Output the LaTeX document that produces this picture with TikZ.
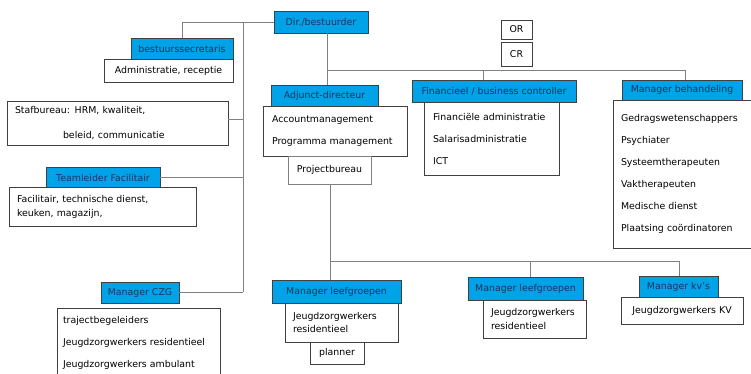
\documentclass[tikz,border=0pt]{standalone}
\usepackage{fontspec}
\setmainfont{DejaVu Sans}
\definecolor{hblue}{RGB}{0,162,232}
\definecolor{navy}{RGB}{28,52,92}
\definecolor{boxgray}{RGB}{64,64,64}
\definecolor{linegray}{RGB}{128,128,128}
\begin{document}
\begin{tikzpicture}[x=1pt,y=-1pt,
  box/.style={draw=boxgray, line width=0.8pt, fill=white, inner sep=0pt, text=black,
    font=\fontsize{9.4}{11}\selectfont},
  bluebox/.style={box, fill=hblue, text=navy},
  listbox/.style={box, align=left, inner xsep=8pt, font=\fontsize{9.4}{22}\selectfont},
  conn/.style={draw=linegray, line width=0.8pt}
]
\useasboundingbox (0,0) rectangle (751,374);
\clip (0,0) rectangle (751,374);

% top
\node[bluebox, minimum width=94pt, minimum height=22pt] (dir) at (321,22) {Dir./bestuurder};
\node[box, minimum width=31pt, minimum height=19pt] (or) at (516.5,29.5) {OR};
\node[box, minimum width=31pt, minimum height=24pt] (cr) at (516.5,54) {CR};

% left column
\node[bluebox, minimum width=102pt, minimum height=21pt] (secr) at (182,48.5) {bestuurssecretaris};
\node[box, minimum width=129pt, minimum height=23pt] (admin) at (168.5,70.5) {Administratie, receptie};
\node[listbox, text width=205pt, minimum width=221pt, minimum height=44pt,
      font=\fontsize{9.4}{25}\selectfont] (staf) at (117.5,123)
      {Stafbureau: HRM, kwaliteit,\\\hspace*{48pt}beleid, communicatie};
\node[bluebox, minimum width=114pt, minimum height=21pt] (team) at (103,177.5) {Teamleider Facilitair};
\node[listbox, text width=171pt, minimum width=187pt, minimum height=39pt,
      font=\fontsize{9.4}{14}\selectfont] (facil) at (102.5,206.5)
      {Facilitair, technische dienst,\\keuken, magazijn,};
\node[bluebox, minimum width=78pt, minimum height=21pt] (czg) at (140,292.5) {Manager CZG};
\node[listbox, inner xsep=6pt, text width=151pt, minimum width=163pt, minimum height=70pt] (czgsub) at (138.5,343)
      {trajectbegeleiders\\Jeugdzorgwerkers residentieel\\Jeugdzorgwerkers ambulant};

% adjunct
\node[bluebox, minimum width=107pt, minimum height=21pt] (adj) at (324.5,95.5) {Adjunct-directeur};
\node[listbox, inner xsep=9pt, text width=126pt, minimum width=144pt, minimum height=50pt] (acct) at (335,131)
      {Accountmanagement\\Programma management};
\node[box, draw=linegray, minimum width=83pt, minimum height=28pt] (proj) at (329.5,170) {Projectbureau};

% financieel
\node[bluebox, minimum width=164pt, minimum height=22pt] (fin) at (494,91) {Financieel / business controller};
\node[listbox, inner xsep=9pt, text width=117pt, minimum width=135pt, minimum height=73pt] (finsub) at (491.5,138.5)
      {Financiële administratie\\Salarisadministratie\\ICT};

% behandeling
\node[bluebox, minimum width=120pt, minimum height=20pt] (beh) at (682,90) {Manager behandeling};
\node[listbox, text width=128pt, minimum width=144pt, minimum height=148pt] (behsub) at (685,174)
      {Gedragswetenschappers\\Psychiater\\Systeemtherapeuten\\Vaktherapeuten\\Medische dienst\\Plaatsing coördinatoren};

% bottom row
\node[bluebox, minimum width=129pt, minimum height=23pt] (lg1) at (336.5,291.5) {Manager leefgroepen};
\node[listbox, text width=97pt, minimum width=113pt, minimum height=39pt,
      font=\fontsize{9.4}{13.5}\selectfont] (lg1sub) at (341.5,322.5)
      {Jeugdzorgwerkers\\residentieel};
\node[box, minimum width=54pt, minimum height=22pt] (planner) at (337,353) {planner};
\node[bluebox, minimum width=115pt, minimum height=23pt] (lg2) at (525.5,288.5) {Manager leefgroepen};
\node[listbox, text width=87pt, minimum width=103pt, minimum height=38pt,
      font=\fontsize{9.4}{13.5}\selectfont] (lg2sub) at (534.5,319)
      {Jeugdzorgwerkers\\residentieel};
\node[bluebox, minimum width=79pt, minimum height=21pt] (kv) at (678.5,286.5) {Manager kv's};
\node[box, minimum width=122pt, minimum height=27pt] (kvsub) at (682,310.5) {Jeugdzorgwerkers KV};

% connectors
\coordinate (tA) at (243,22);
\coordinate (tB) at (243,292);
\draw[conn] (dir.west) -| (secr.north);
\draw[conn] (tA) -- (tB);
\draw[conn] ([yshift=4pt]staf.east) -- ([yshift=4pt]staf.east -| tA);
\draw[conn] (team.east) -- (team.east -| tA);
\draw[conn] (czg.east) -- (czg.east -| tA);

\coordinate (hubL) at (327,70);
\coordinate (hubR) at (685,70);
\coordinate (finx) at (483,70);
\draw[conn] (dir.south -| hubL) -- (adj.north -| hubL);
\draw[conn] (hubL) -- (hubR) -- (beh.north -| hubR);
\draw[conn] (finx) -- (fin.north -| finx);

\coordinate (bL) at (330,261);
\coordinate (bM) at (530,261);
\coordinate (bR) at (679,261);
\draw[conn] (proj.south -| bL) -- (lg1.north -| bL);
\draw[conn] (bL) -- (bR) -- (kv.north -| bR);
\draw[conn] (bM) -- (lg2.north -| bM);
\end{tikzpicture}
\end{document}
